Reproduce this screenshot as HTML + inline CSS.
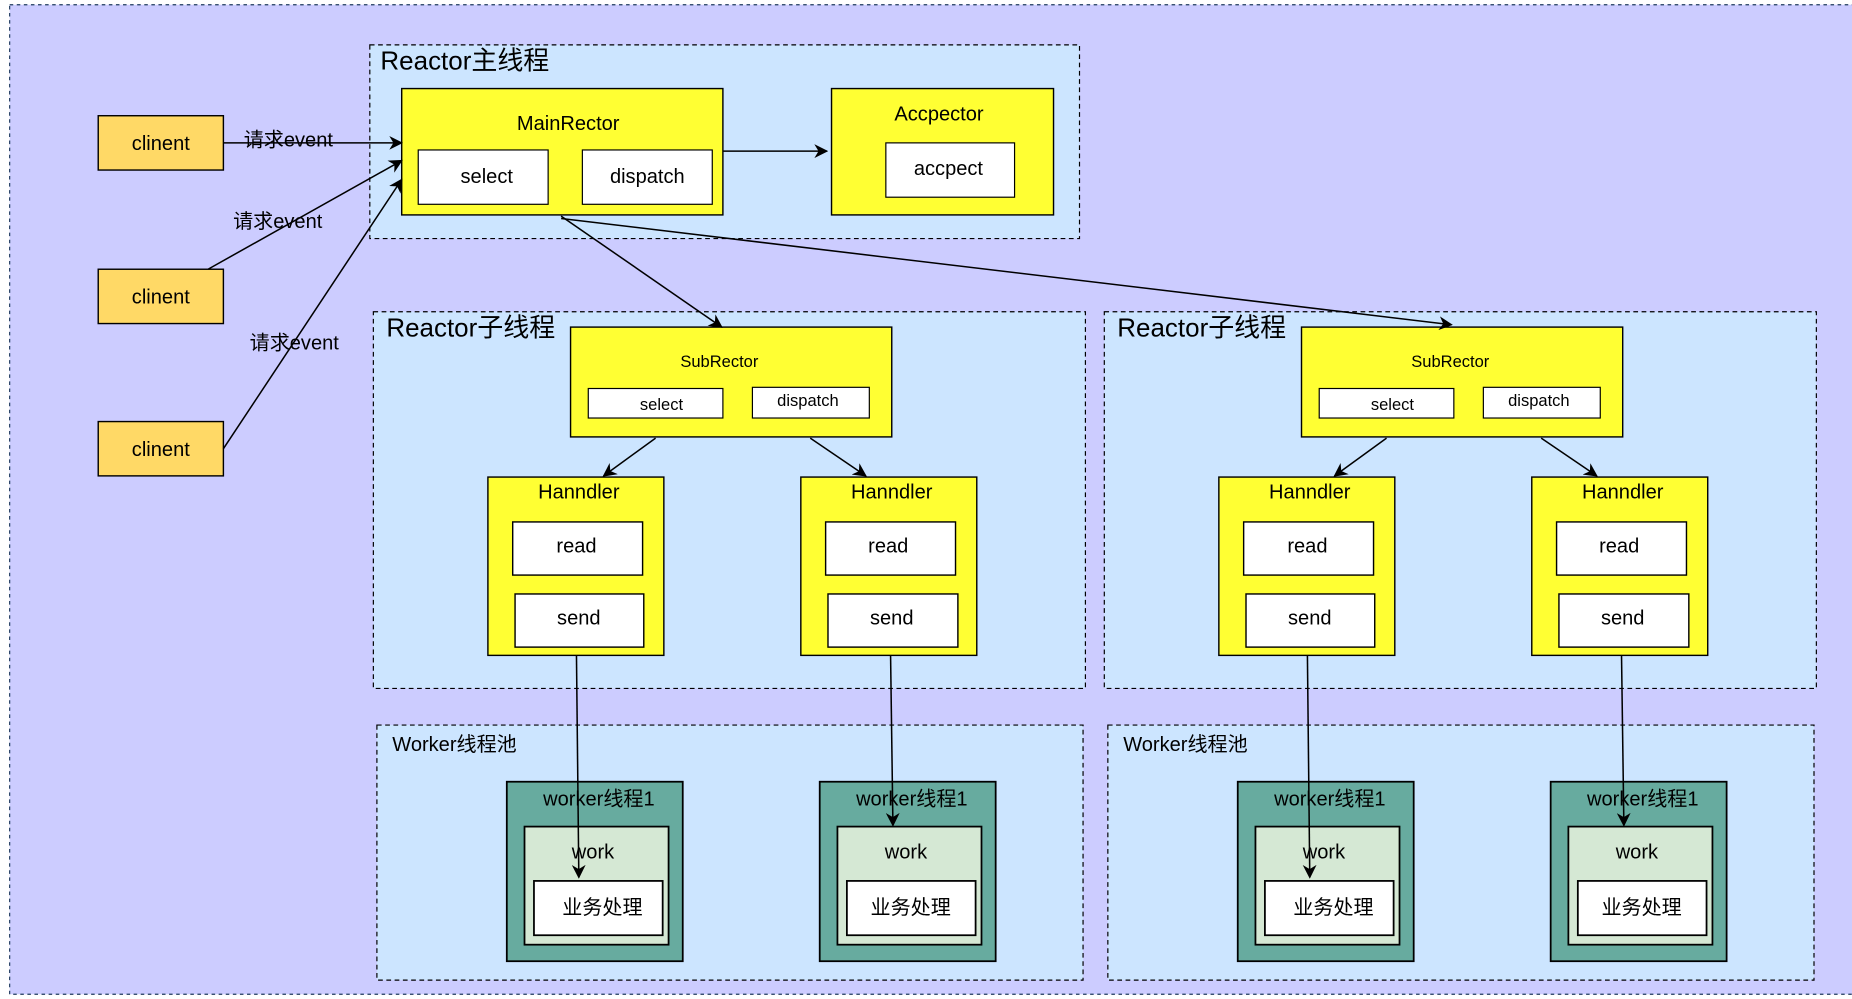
<!DOCTYPE html>
<html><head><meta charset="utf-8"><style>
html,body{margin:0;padding:0;background:#fff;}
svg{display:block;}
text{font-family:"Liberation Sans","Noto Sans CJK SC",sans-serif;fill:#000;}
</style></head><body>
<svg width="1852" height="999" viewBox="0 0 1568 846" xmlns="http://www.w3.org/2000/svg">
<defs>
<marker id="a" viewBox="0 0 10 10" refX="9" refY="5" markerWidth="9" markerHeight="9" orient="auto"><path d="M0,0 L10,5 L0,10 L3,5 z" fill="#000"/></marker>
</defs>
<rect x="0" y="0" width="1568" height="846" fill="#fff"/>
<rect x="8" y="4" width="1570" height="838" fill="#ccccff" stroke="#1f3a5f" stroke-dasharray="3,3" stroke-width="1"/>

<g stroke="#000" stroke-width="1.2" fill="#ffd966">
<rect x="83" y="98" width="106" height="46"/>
<rect x="83" y="228" width="106" height="46"/>
<rect x="83" y="357" width="106" height="46"/>
</g>
<g font-size="17" text-anchor="middle">
<text x="136" y="127">clinent</text>
<text x="136" y="257">clinent</text>
<text x="136" y="386">clinent</text>
</g>

<rect x="313" y="38" width="601" height="164" fill="#cce5ff" stroke="#000" stroke-dasharray="4,3"/>
<text x="322" y="59" font-size="22">Reactor主线程</text>
<rect x="340" y="75" width="272" height="107" fill="#ffff33" stroke="#000" stroke-width="1.2"/>
<text x="481" y="110" font-size="17" text-anchor="middle">MainRector</text>
<rect x="354" y="127" width="110" height="46" fill="#fff" stroke="#000"/>
<text x="412" y="155" font-size="17" text-anchor="middle">select</text>
<rect x="493" y="127" width="110" height="46" fill="#fff" stroke="#000"/>
<text x="548" y="155" font-size="17" text-anchor="middle">dispatch</text>
<rect x="704" y="75" width="188" height="107" fill="#ffff33" stroke="#000" stroke-width="1.2"/>
<text x="795" y="102" font-size="17" text-anchor="middle">Accpector</text>
<rect x="750" y="121" width="109" height="46" fill="#fff" stroke="#000"/>
<text x="803" y="148" font-size="17" text-anchor="middle">accpect</text>

<g id="sub">
<rect x="316" y="264" width="603" height="319" fill="#cce5ff" stroke="#000" stroke-dasharray="4,3"/>
<text x="327" y="285" font-size="22">Reactor子线程</text>
<rect x="483" y="277" width="272" height="93" fill="#ffff33" stroke="#000" stroke-width="1.2"/>
<text x="609" y="311" font-size="14" text-anchor="middle">SubRector</text>
<rect x="498" y="329" width="114" height="25" fill="#fff" stroke="#000"/>
<text x="560" y="347" font-size="14" text-anchor="middle">select</text>
<rect x="637" y="328" width="99" height="26" fill="#fff" stroke="#000"/>
<text x="684" y="344" font-size="14" text-anchor="middle">dispatch</text>
<g stroke="#000" stroke-width="1.2">
<rect x="413" y="404" width="149" height="151" fill="#ffff33"/>
<rect x="434" y="442" width="110" height="45" fill="#fff"/>
<rect x="436" y="503" width="109" height="45" fill="#fff"/>
<rect x="678" y="404" width="149" height="151" fill="#ffff33"/>
<rect x="699" y="442" width="110" height="45" fill="#fff"/>
<rect x="701" y="503" width="110" height="45" fill="#fff"/>
</g>
<g font-size="17" text-anchor="middle">
<text x="490" y="422">Hanndler</text>
<text x="488" y="468">read</text>
<text x="490" y="529">send</text>
<text x="755" y="422">Hanndler</text>
<text x="752" y="468">read</text>
<text x="755" y="529">send</text>
</g>
<rect x="319" y="614" width="598" height="216" fill="#cce5ff" stroke="#000" stroke-dasharray="4,3"/>
<text x="332" y="636" font-size="17">Worker线程池</text>
<g stroke="#000" stroke-width="1.5">
<rect x="429" y="662" width="149" height="152" fill="#67ab9f"/>
<rect x="444" y="700" width="122" height="100" fill="#d5e8d4"/>
<rect x="452" y="746" width="109" height="46" fill="#fff"/>
<rect x="694" y="662" width="149" height="152" fill="#67ab9f"/>
<rect x="709" y="700" width="122" height="100" fill="#d5e8d4"/>
<rect x="717" y="746" width="109" height="46" fill="#fff"/>
</g>
<g font-size="17" text-anchor="middle">
<text x="507" y="682">worker线程1</text>
<text x="502" y="727">work</text>
<text x="510" y="774">业务处理</text>
<text x="772" y="682">worker线程1</text>
<text x="767" y="727">work</text>
<text x="771" y="774">业务处理</text>
</g>
<g stroke="#000" stroke-width="1.3" fill="none" marker-end="url(#a)">
<line x1="555" y1="371" x2="511" y2="403"/>
<line x1="686" y1="371" x2="733" y2="403"/>
<line x1="488" y1="555" x2="490" y2="743"/>
<line x1="754" y1="555" x2="756" y2="699"/>
</g>
</g>
<use href="#sub" transform="translate(619,0)"/>

<g stroke="#000" stroke-width="1.3" fill="none" marker-end="url(#a)">
<line x1="189" y1="121" x2="340" y2="121"/>
<line x1="176" y1="228" x2="340" y2="136"/>
<line x1="189" y1="380" x2="340" y2="152"/>
<line x1="612" y1="128" x2="700" y2="128"/>
<line x1="475" y1="183" x2="611" y2="277"/>
<line x1="475" y1="185" x2="1229" y2="275"/>
</g>
<g font-size="17" text-anchor="middle">
<text x="244" y="124">请求event</text>
<text x="235" y="193">请求event</text>
<text x="249" y="296">请求event</text>
</g>
</svg>
</body></html>
